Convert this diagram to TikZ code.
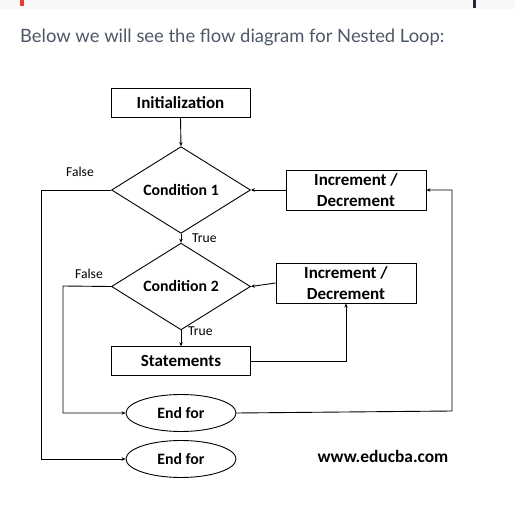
\documentclass[tikz,border=0pt]{standalone}
\usepackage{fontspec}
\setmainfont{Carlito}
\newfontfamily\headfont{Lato}
\usetikzlibrary{shapes.geometric,arrows.meta}
\definecolor{headgray}{RGB}{78,88,104}
\definecolor{topred}{RGB}{230,62,50}
\definecolor{topnavy}{RGB}{30,40,60}
\tikzset{
  box/.style={draw,line width=0.9pt,inner sep=0pt,font=\fontsize{17}{21}\selectfont\bfseries,align=center},
  dia/.style={draw,line width=0.9pt,diamond,inner sep=0pt,minimum width=139pt,minimum height=71pt,font=\fontsize{15.8}{18}\selectfont\bfseries},
  ell/.style={draw,line width=0.9pt,ellipse,inner sep=0pt,minimum width=110pt,minimum height=37pt,font=\fontsize{15.8}{18}\selectfont\bfseries},
  lbl/.style={inner sep=0pt,anchor=west,font=\fontsize{13.6}{16}\selectfont},
  conn/.style={line width=0.9pt},
  arr/.style={line width=0.9pt,-{Stealth[length=4pt,width=3.5pt]}}
}
\begin{document}
\begin{tikzpicture}[x=1pt,y=-1pt]
\useasboundingbox (0,0) rectangle (515,511);
\fill[white] (0,0) rectangle (515,511);
\fill[black!3] (0,0) rectangle (515,9);
\fill[topred] (20,0) rectangle (24,6);
\fill[topnavy] (473,0) rectangle (476,8);
\node[anchor=base west,inner sep=0pt,text=headgray,font=\headfont\fontsize{18.4}{20}\selectfont] (head) at (20,43) {Below we will see the flow diagram for Nested Loop:};

\node[box,minimum width=139pt,minimum height=29pt] (init) at (180.5,102.5) {Initialization};
\node[dia] (d1) at (181,190) {Condition 1};
\node[dia] (d2) at (181,286.5) {Condition 2};
\node[box,minimum width=139pt,minimum height=28.5pt] (stmt) at (181,361) {Statements};
\node[box,minimum width=140pt,minimum height=40pt] (inc1) at (356,190) {Increment /\\Decrement};
\node[box,minimum width=140pt,minimum height=40pt] (inc2) at (346,283) {Increment /\\Decrement};
\node[ell] (end1) at (181,413) {End for};
\node[ell] (end2) at (181,459) {End for};

\node[lbl] (f1) at (66,172) {False};
\node[lbl] (f2) at (75,274) {False};
\node[lbl] (t1) at (192,238) {True};
\node[lbl] (t2) at (188,331) {True};

\node[inner sep=0pt,font=\fontsize{17.4}{19}\selectfont\bfseries] (web) at (383,456) {www.educba.com};

\coordinate (c1) at (41,190);
\coordinate (c2) at (63,286);
\coordinate (c3) at (452,411);

\draw[arr] (init.south) -- (d1.north);
\draw[arr] (d1.south) -- (d2.north);
\draw[arr] (d2.south) -- (stmt.north);
\draw[arr] (inc1.west) -- (d1.east);
\draw[arr] (inc2.west) -- (d2.east);
\draw[arr] (stmt.east) -| (inc2.south);
\draw[arr] (d1.west) -- (c1) |- (end2.west);
\draw[arr] (d2.west) -- (c2) |- (end1.west);
\draw[arr] (end1.east) -- (c3) |- (inc1.east);
\end{tikzpicture}
\end{document}
